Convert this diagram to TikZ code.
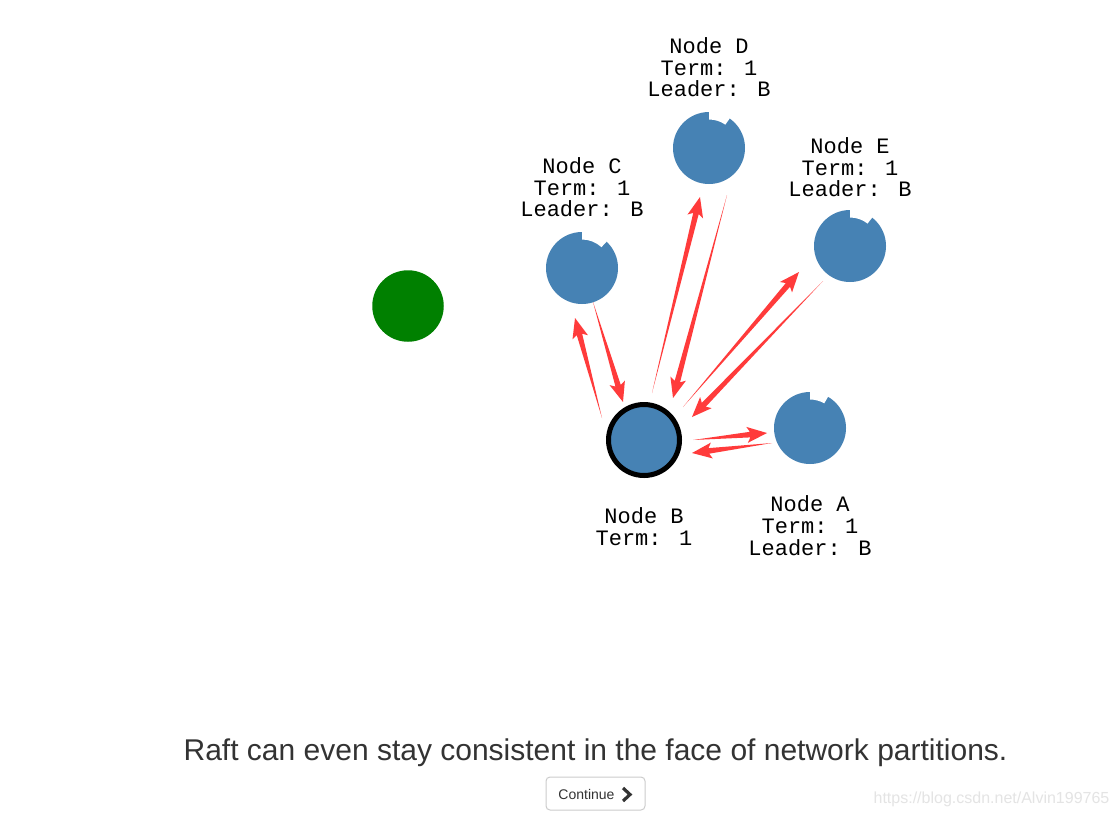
\documentclass[tikz,border=0pt]{standalone}
\usepackage{fontspec}
\setmainfont{Liberation Sans}
\newfontfamily\monof{Liberation Mono}
\usetikzlibrary{calc}
\definecolor{steel}{HTML}{4682B4}
\definecolor{leafgreen}{HTML}{008000}
\definecolor{msgred}{HTML}{FF3B3B}
\definecolor{textgray}{HTML}{333333}
\definecolor{btnborder}{HTML}{CCCCCC}
\definecolor{wmgray}{HTML}{E4E4E4}
\newcommand\msgarrow[2]{%
  \fill[msg] let \p1=($(#2)-(#1)$), \n1={atan2(\y1,\x1)}, \n2={veclen(\x1,\y1)} in
   [shift={(#1)}, rotate=\n1] (0pt,0pt) -- ({\n2-17pt},2.8pt) -- ({\n2-20pt},8pt)
   -- (\n2,0pt) -- ({\n2-20pt},-8pt) -- ({\n2-17pt},-2.8pt) -- cycle;}
\newcommand\notch[2]{%
  \begin{scope}[shift={(#1.center)}]
  \fill[white] (90:28.5pt) -- (90:37pt) arc[start angle=90,end angle=#2,radius=37pt]
    -- (#2:28.5pt) arc[start angle=#2,end angle=90,radius=28.5pt] -- cycle;
  \end{scope}}
\begin{document}
\begin{tikzpicture}[x=1pt,y=-1pt,
  srv/.style={circle, fill=steel, minimum size=72pt, inner sep=0pt},
  leadersrv/.style={circle, fill=steel, draw=black, line width=5pt, minimum size=71pt, inner sep=0pt},
  cand/.style={circle, fill=leafgreen, minimum size=71.5pt, inner sep=0pt},
  lbl/.style={font=\monof\fontsize{22}{21.7}\selectfont, align=center, inner sep=0pt, anchor=base},
  msg/.style={fill=msgred}]
\useasboundingbox[fill=white] (0,0) rectangle (1118,817);

% servers
\node[cand] (X) at (408,306) {};
\node[srv] (C) at (582,268) {};
\node[srv] (D) at (709,148) {};
\node[srv] (E) at (850,246) {};
\node[srv] (A) at (810,428) {};
\node[leadersrv] (B) at (644,440) {};
\notch{C}{47}
\notch{D}{55}
\notch{E}{52}
\notch{A}{60}

% labels (anchored at the baseline of the last line)
\node[lbl] (lD) at (709,96.7) {Node D\\Term: 1\\Leader: B};
\node[lbl] (lC) at (582,216.7) {Node C\\Term: 1\\Leader: B};
\node[lbl] (lE) at (850,196.7) {Node E\\Term: 1\\Leader: B};
\node[lbl] (lA) at (810,555.1) {Node A\\Term: 1\\Leader: B};
\node[lbl] (lB) at (644,545) {Node B\\Term: 1};

% messages
\coordinate (m1s) at (602,418); \coordinate (m1e) at (575,318);
\coordinate (m2s) at (593,302); \coordinate (m2e) at (623,402);
\coordinate (m3s) at (652,393); \coordinate (m3e) at (700,197);
\coordinate (m4s) at (727,195); \coordinate (m4e) at (673,398);
\coordinate (m5s) at (683,407); \coordinate (m5e) at (799,272);
\coordinate (m6s) at (823,281); \coordinate (m6e) at (692,417);
\coordinate (m7s) at (693,440); \coordinate (m7e) at (767,433);
\coordinate (m8s) at (772,443); \coordinate (m8e) at (692,453);
\msgarrow{m1s}{m1e}
\msgarrow{m2s}{m2e}
\msgarrow{m3s}{m3e}
\msgarrow{m4s}{m4e}
\msgarrow{m5s}{m5e}
\msgarrow{m6s}{m6e}
\msgarrow{m7s}{m7e}
\msgarrow{m8s}{m8e}

% caption
\node[font=\fontsize{30}{36}\selectfont, text=textgray, inner sep=0pt] (cap) at (595.5,753) {Raft can even stay consistent in the face of network partitions.};

% button
\node[draw=btnborder, line width=1pt, rounded corners=4pt, minimum width=99pt, minimum height=33pt, inner sep=0pt] (btn) at (595.5,793.5) {};
\node[font=\fontsize{14}{17}\selectfont, text=textgray, inner sep=0pt] (btnt) at (586.5,794) {Continue};
\coordinate (chA) at (623,788); \coordinate (chB) at (630,794.5); \coordinate (chC) at (623,801);
\draw[textgray, line width=3.2pt, miter limit=10] (chA) -- (chB) -- (chC);

% watermark
\node[font=\fontsize{16}{19}\selectfont, text=wmgray, inner sep=0pt] (wm) at (991.5,799) {https://blog.csdn.net/Alvin199765};
\end{tikzpicture}
\end{document}
